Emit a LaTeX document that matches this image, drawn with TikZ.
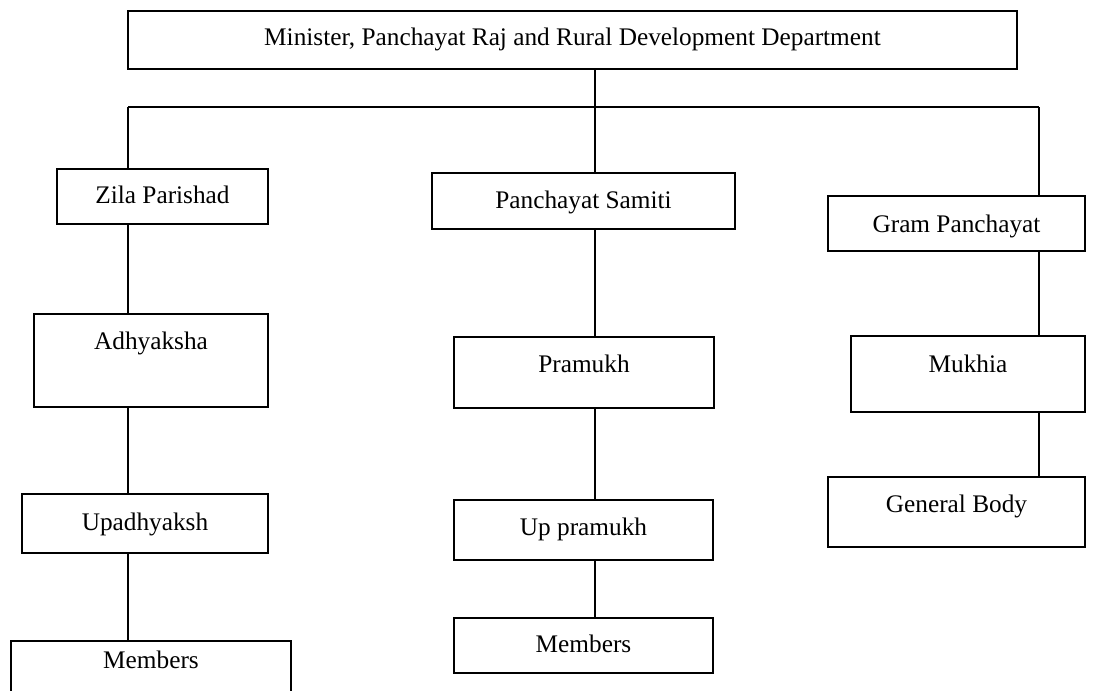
\documentclass[tikz,border=0pt]{standalone}
\usepackage{fontspec}
\setmainfont{Liberation Serif}
\begin{document}
\begin{tikzpicture}[x=1pt,y=-1pt,
  orgbox/.style={draw, line width=1.4pt, inner sep=0pt, anchor=base, align=center,
    font=\fontsize{25.3}{30}\selectfont},
  conn/.style={line width=1.4pt}]
\useasboundingbox (0,0) rectangle (1093,691);
\clip (0,0) rectangle (1093,691);
% boxes (anchor = text baseline)
\node[orgbox, minimum width=889pt, text height=34pt, text depth=24pt] (top) at (572.5,45) {Minister, Panchayat Raj and Rural Development Department};
\node[orgbox, minimum width=211pt, text height=34pt, text depth=21pt] (zila) at (162.5,203) {Zila Parishad};
\node[orgbox, minimum width=303pt, text height=35pt, text depth=21pt] (samiti) at (583.5,208) {Panchayat Samiti};
\node[orgbox, minimum width=257pt, text height=36pt, text depth=19pt] (gram) at (956.5,232) {Gram Panchayat};
\node[orgbox, minimum width=234pt, text height=35pt, text depth=58pt] (adhyaksha) at (151,349) {Adhyaksha};
\node[orgbox, minimum width=260pt, text height=35pt, text depth=36pt] (pramukh) at (584,372) {Pramukh};
\node[orgbox, minimum width=234pt, text height=36pt, text depth=40pt] (mukhia) at (968,372) {Mukhia};
\node[orgbox, minimum width=246pt, text height=36pt, text depth=23pt] (upadhyaksh) at (145,530) {Upadhyaksh};
\node[orgbox, minimum width=259pt, text height=35pt, text depth=25pt] (uppramukh) at (583.5,535) {Up pramukh};
\node[orgbox, minimum width=257pt, text height=35pt, text depth=35pt] (general) at (956.5,512) {General Body};
\node[orgbox, minimum width=280pt, text height=27pt, text depth=60pt] (members1) at (151,668) {Members};
\node[orgbox, minimum width=259pt, text height=34pt, text depth=21pt] (members2) at (583.5,652) {Members};
% bus coordinates
\coordinate (busL) at (128,107);
\coordinate (busM) at (595,107);
\coordinate (busR) at (1039,107);
% connectors
\draw[conn] (top.south -| busM) -- (busM);
\draw[conn] (busL) -- (busM) -- (busR);
\draw[conn] (busL) -- (zila.north -| busL);
\draw[conn] (busM) -- (samiti.north -| busM);
\draw[conn] (busR) -- (gram.north -| busR);
\draw[conn] (zila.south -| busL) -- (adhyaksha.north -| busL);
\draw[conn] (adhyaksha.south -| busL) -- (upadhyaksh.north -| busL);
\draw[conn] (upadhyaksh.south -| busL) -- (members1.north -| busL);
\draw[conn] (samiti.south -| busM) -- (pramukh.north -| busM);
\draw[conn] (pramukh.south -| busM) -- (uppramukh.north -| busM);
\draw[conn] (uppramukh.south -| busM) -- (members2.north -| busM);
\draw[conn] (gram.south -| busR) -- (mukhia.north -| busR);
\draw[conn] (mukhia.south -| busR) -- (general.north -| busR);
\end{tikzpicture}
\end{document}
